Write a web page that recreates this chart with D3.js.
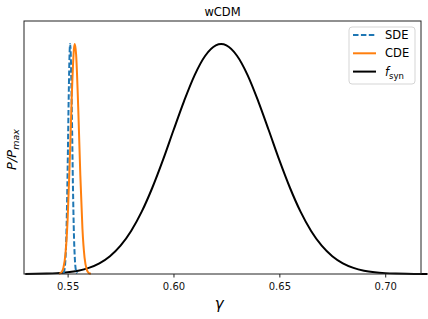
<!DOCTYPE html>
<html>
<head>
<meta charset="utf-8">
<script src="https://cdn.jsdelivr.net/npm/d3@7"></script>
<style>
  body { margin: 0; background: #fff; }
  text { font-family: "DejaVu Sans", sans-serif; }
</style>
</head>
<body>
<div id="chart"></div>
<script>
// values (gamma, P/Pmax)
var synGamma = [0.530, 0.535, 0.540, 0.545, 0.550, 0.555, 0.560, 0.565, 0.570, 0.575,
  0.580, 0.585, 0.590, 0.595, 0.600, 0.605, 0.610, 0.615, 0.620, 0.6225, 0.625,
  0.630, 0.635, 0.640, 0.645, 0.650, 0.655, 0.660, 0.665, 0.670, 0.675,
  0.680, 0.685, 0.690, 0.695, 0.700, 0.705, 0.710, 0.715, 0.720];
var synP = [0.0004, 0.0008, 0.0018, 0.0038, 0.0076, 0.0145, 0.0266, 0.0464, 0.0773, 0.123,
  0.187, 0.271, 0.375, 0.495, 0.625, 0.752, 0.865, 0.949, 0.994, 1.0, 0.994,
  0.949, 0.865, 0.752, 0.625, 0.495, 0.375, 0.271, 0.187, 0.123, 0.0773,
  0.0464, 0.0266, 0.0145, 0.0076, 0.0038, 0.0018, 0.0008, 0.0004, 0.0001];

var sdeGamma = [0.5480, 0.5485, 0.5490, 0.5495, 0.5500, 0.5505, 0.5510, 0.5512, 0.5515,
  0.5520, 0.5525, 0.5530, 0.5535, 0.5540, 0.5545];
var sdeP = [0.0034, 0.0176, 0.068, 0.202, 0.450, 0.762, 0.978, 1.0, 0.951,
  0.701, 0.392, 0.166, 0.053, 0.013, 0.0024];

var cdeGamma = [0.546, 0.547, 0.548, 0.549, 0.550, 0.551, 0.552, 0.553, 0.5534,
  0.554, 0.555, 0.556, 0.557, 0.558, 0.559, 0.560, 0.561];
var cdeP = [0.001, 0.006, 0.026, 0.089, 0.236, 0.487, 0.783, 0.980, 1.0,
  0.956, 0.726, 0.430, 0.198, 0.071, 0.020, 0.004, 0.0007];

var xTicks = [0.55, 0.60, 0.65, 0.70];
var names = ["SDE", "CDE", "syn"];

var margin = {top: 21, right: 7, bottom: 45, left: 24},
    width = 428 - margin.left - margin.right,
    height = 319 - margin.top - margin.bottom;

var svg = d3.select("#chart")
  .append("svg")
    .attr("width", 428)
    .attr("height", 319)
  .append("g")
    .attr("transform", "translate(" + margin.left + "," + margin.top + ")");

var x = d3.scaleLinear()
  .domain([0.5294, 0.7169])
  .range([0, width]);

var y = d3.scaleLinear()
  .domain([0, 1.1])
  .range([height, 0]);

function pts(gs, ps) {
  return gs.map(function(g, i) { return [g, ps[i]]; });
}

var line = d3.line()
  .x(function(d) { return x(d[0]); })
  .y(function(d) { return y(d[1]); })
  .curve(d3.curveMonotoneX);

svg.append("path")
  .attr("d", line(pts(synGamma, synP)))
  .attr("fill", "none")
  .attr("stroke", "#000")
  .attr("stroke-width", 2);

svg.append("path")
  .attr("d", line(pts(sdeGamma, sdeP)))
  .attr("fill", "none")
  .attr("stroke", "#1f77b4")
  .attr("stroke-width", 2)
  .attr("stroke-dasharray", "5.5,2.4");

svg.append("path")
  .attr("d", line(pts(cdeGamma, cdeP)))
  .attr("fill", "none")
  .attr("stroke", "#ff7f0e")
  .attr("stroke-width", 2);

// axes
var xAxis = svg.append("g")
  .attr("transform", "translate(0," + height + ")")
  .call(d3.axisBottom(x).tickValues(xTicks).tickFormat(d3.format(".2f")).tickSizeOuter(0).tickSize(3.5));
xAxis.select(".domain").remove();
xAxis.selectAll("line").attr("stroke", "#222");
xAxis.selectAll("text")
  .attr("font-size", "10px")
  .attr("font-family", "DejaVu Sans")
  .attr("fill", "#111")
  .attr("dy", "0.95em");

svg.append("rect")
  .attr("x", 0).attr("y", 0)
  .attr("width", width).attr("height", height)
  .attr("fill", "none")
  .attr("stroke", "#222")
  .attr("stroke-width", 1);

// title + labels
svg.append("text")
  .attr("x", width / 2).attr("y", -5)
  .attr("text-anchor", "middle")
  .attr("font-size", "11.5px")
  .text("wCDM");

svg.append("text")
  .attr("x", x(0.6216)).attr("y", height + 35)
  .attr("text-anchor", "middle")
  .attr("font-size", "15px")
  .attr("font-style", "italic")
  .text("γ");

var yl = svg.append("text")
  .attr("transform", "translate(-8," + (height / 2 + 2) + ") rotate(-90)")
  .attr("text-anchor", "middle")
  .attr("font-size", "13px")
  .attr("font-style", "italic");
yl.append("tspan").text("P/P");
yl.append("tspan").attr("dy", 3).attr("font-size", "9.5px").text("max");

// legend
var lg = svg.append("g").attr("transform", "translate(" + (349 - margin.left) + "," + (27 - margin.top) + ")");
lg.append("rect")
  .attr("width", 66).attr("height", 57)
  .attr("rx", 3)
  .attr("fill", "#fff")
  .attr("fill-opacity", 0.8)
  .attr("stroke", "#d5d5d5");

var colors = ["#1f77b4", "#ff7f0e", "#000"];
names.forEach(function(n, i) {
  var yy = 8 + i * 18.3;
  lg.append("line")
    .attr("x1", 4).attr("x2", 27)
    .attr("y1", yy).attr("y2", yy)
    .attr("stroke", colors[i])
    .attr("stroke-width", 2)
    .attr("stroke-dasharray", i === 0 ? "5.5,2.4" : null);
  var t = lg.append("text")
    .attr("x", 36).attr("y", yy + 4)
    .attr("font-size", "11.5px");
  if (n === "syn") {
    t.append("tspan").attr("font-style", "italic").text("f");
    t.append("tspan").attr("dy", 3).attr("font-size", "8.5px").text("syn");
  } else {
    t.text(n);
  }
});
</script>
</body>
</html>
